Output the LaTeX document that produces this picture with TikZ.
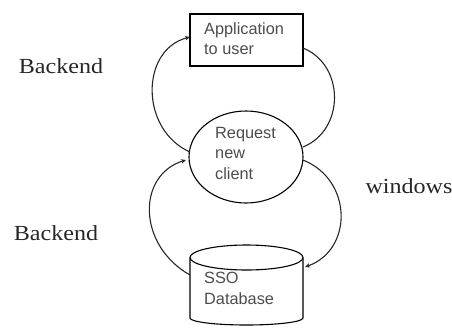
\documentclass[tikz,border=0pt]{standalone}
\usepackage{fontspec}
\setmainfont{Liberation Serif}
\newfontfamily\boxfont{Liberation Sans}
\usetikzlibrary{arrows.meta,shapes.geometric}
\begin{document}
\begin{tikzpicture}[x=1pt,y=-1pt,
  conn/.style={line width=1.1pt,color=black!85},
  tip/.style={-{Stealth[length=5pt,width=4.5pt]}},
  lbl/.style={font=\fontsize{21.5}{24}\selectfont,text=black!85,inner sep=0pt,xscale=1.12,transform shape},
  boxtxt/.style={font=\boxfont\fontsize{16.3}{20.5}\selectfont,text=black!70,align=left,inner sep=0pt}]
\useasboundingbox (0,0) rectangle (452,327);
% nodes
\node[draw,line width=1.1pt,minimum width=113pt,minimum height=52pt,inner sep=0pt] (box) at (246.5,40) {};
\node[boxtxt,anchor=north west] (boxt) at (204,22) {Application\\to user};
\node[draw,line width=1.1pt,ellipse,minimum width=114pt,minimum height=92pt,inner sep=0pt] (circ) at (246,157) {};
\node[boxtxt,anchor=north west] (circt) at (215,127) {Request\\new\\client};
\node[minimum width=113pt,minimum height=80pt,inner sep=0pt] (db) at (246.5,285) {};
\draw[line width=1.1pt] (246.5,257.5) ellipse [x radius=56.5pt,y radius=12.5pt];
\draw[line width=1.1pt] (190,257.5) -- (190,318) arc[start angle=180,end angle=360,x radius=56.5pt,y radius=7pt] -- (303,257.5);
\node[boxtxt,anchor=north west] (dbt) at (204,272) {SSO\\Database};
% connector end points
\coordinate (c1) at (190,152);
\coordinate (b1) at (190,37);
\coordinate (d1) at (190,275);
\coordinate (c2) at (186,160);
\coordinate (b2) at (303,48);
\coordinate (c3) at (303,147);
\coordinate (c4) at (303,160);
\coordinate (d2) at (305,267);
% connectors
\draw[conn,tip] (c1) .. controls (140,130) and (140,50) .. (b1);
\draw[conn,tip] (d1) .. controls (137,245) and (137,175) .. (c2);
\draw[conn] (b2) .. controls (345,65) and (345,130) .. (c3);
\draw[conn,tip] (c4) .. controls (353,180) and (353,250) .. (d2);
% labels
\node[lbl] (l1) at (61,66) {Backend};
\node[lbl] (l2) at (56,233) {Backend};
\node[lbl] (l3) at (409,186) {windows};
\end{tikzpicture}
\end{document}
